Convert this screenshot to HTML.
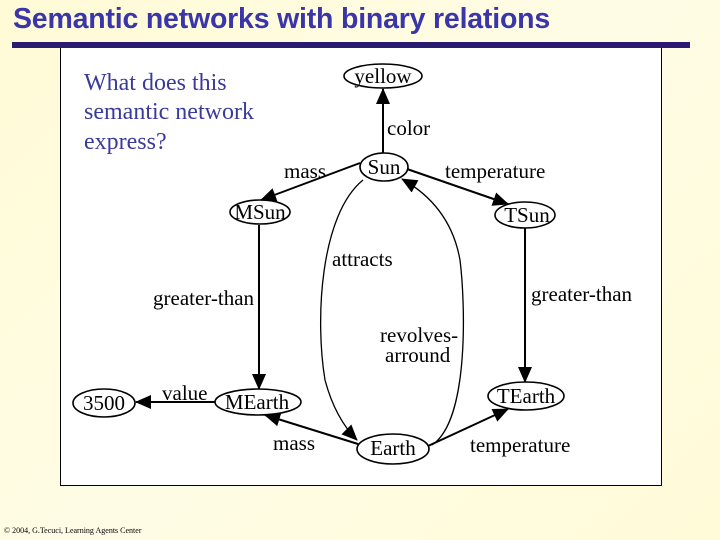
<!DOCTYPE html>
<html><head><meta charset="utf-8"><style>
html,body{margin:0;padding:0}
body{width:720px;height:540px;overflow:hidden;background:linear-gradient(135deg,#fffbd6,#fffce6 50%,#fffbd8);position:relative;font-family:"Liberation Serif",serif}
.t{position:absolute;left:13px;top:3px;font:bold 28.5px "Liberation Sans",sans-serif;color:#3a35a8;white-space:nowrap;letter-spacing:-0.2px}
.rule{position:absolute;left:12px;top:42px;width:678px;height:6px;background:#2a1a70}
.box{position:absolute;left:60px;top:48px;width:600px;height:437px;background:#fff;border:1px solid #000;border-top:none}
.foot{position:absolute;left:4px;top:526px;font-size:8px;color:#000;white-space:nowrap}
svg{position:absolute;left:0;top:0}
</style></head><body>
<div class="t">Semantic networks with binary relations</div>
<div class="rule"></div>
<div class="box"></div>
<svg width="720" height="540" font-family="Liberation Serif, serif" font-size="21">
<defs>
<marker id="b" markerWidth="16" markerHeight="16" refX="15" refY="8" orient="auto" markerUnits="userSpaceOnUse" viewBox="0 0 16 16"><path d="M0,1 L16,8 L0,15 z" fill="#000"/></marker></defs>
<text x="84" y="90" fill="#3a3a9a" font-size="24">What does this</text>
<text x="84" y="119" fill="#3a3a9a" font-size="24">semantic network</text>
<text x="84" y="149" fill="#3a3a9a" font-size="24">express?</text>
<g fill="none" stroke="#000" stroke-width="1.6">
<ellipse cx="383" cy="76" rx="39" ry="12"/>
<ellipse cx="384" cy="167" rx="24" ry="14"/>
<ellipse cx="260" cy="212" rx="30" ry="12"/>
<ellipse cx="525" cy="215" rx="30" ry="13"/>
<ellipse cx="526" cy="396" rx="38" ry="14"/>
<ellipse cx="258" cy="402" rx="43" ry="13"/>
<ellipse cx="104" cy="403" rx="31" ry="14"/>
<ellipse cx="393" cy="449" rx="36" ry="15"/>
</g>
<g stroke="#000" stroke-width="2" fill="none">
<line x1="383" y1="153" x2="383" y2="89" marker-end="url(#b)"/>
<line x1="360" y1="163" x2="261" y2="200" marker-end="url(#b)"/>
<line x1="407" y1="169" x2="508" y2="204" marker-end="url(#b)"/>
<line x1="259" y1="225" x2="259" y2="389" marker-end="url(#b)"/>
<line x1="525" y1="228" x2="525" y2="382" marker-end="url(#b)"/>
<line x1="215" y1="402" x2="136" y2="402" marker-end="url(#b)"/>
<line x1="358" y1="444" x2="265" y2="415" marker-end="url(#b)"/>
<line x1="428" y1="446" x2="508" y2="409" marker-end="url(#b)"/>
</g>
<g stroke="#000" stroke-width="1.3" fill="none">
<path d="M363,180 C320,215 315,320 325,380 C333,410 345,428 357,440" marker-end="url(#b)"/>
<path d="M432,445 C470,420 465,300 460,260 C452,215 425,192 402,179" marker-end="url(#b)"/>
</g>
<g fill="#000">
<text x="383" y="83" text-anchor="middle">yellow</text>
<text x="384" y="174" text-anchor="middle">Sun</text>
<text x="260" y="219" text-anchor="middle">MSun</text>
<text x="527" y="222" text-anchor="middle">TSun</text>
<text x="526" y="403" text-anchor="middle">TEarth</text>
<text x="257" y="409" text-anchor="middle">MEarth</text>
<text x="104" y="410" text-anchor="middle">3500</text>
<text x="393" y="455" text-anchor="middle">Earth</text>
<text x="387" y="135">color</text>
<text x="284" y="178">mass</text>
<text x="445" y="178">temperature</text>
<text x="332" y="266">attracts</text>
<text x="153" y="305">greater-than</text>
<text x="531" y="301">greater-than</text>
<text x="380" y="342">revolves-</text>
<text x="385" y="362">arround</text>
<text x="162" y="400">value</text>
<text x="273" y="450">mass</text>
<text x="470" y="452">temperature</text>
</g>
</svg>
<div class="foot">© 2004, G.Tecuci, Learning Agents Center</div>
</body></html>
